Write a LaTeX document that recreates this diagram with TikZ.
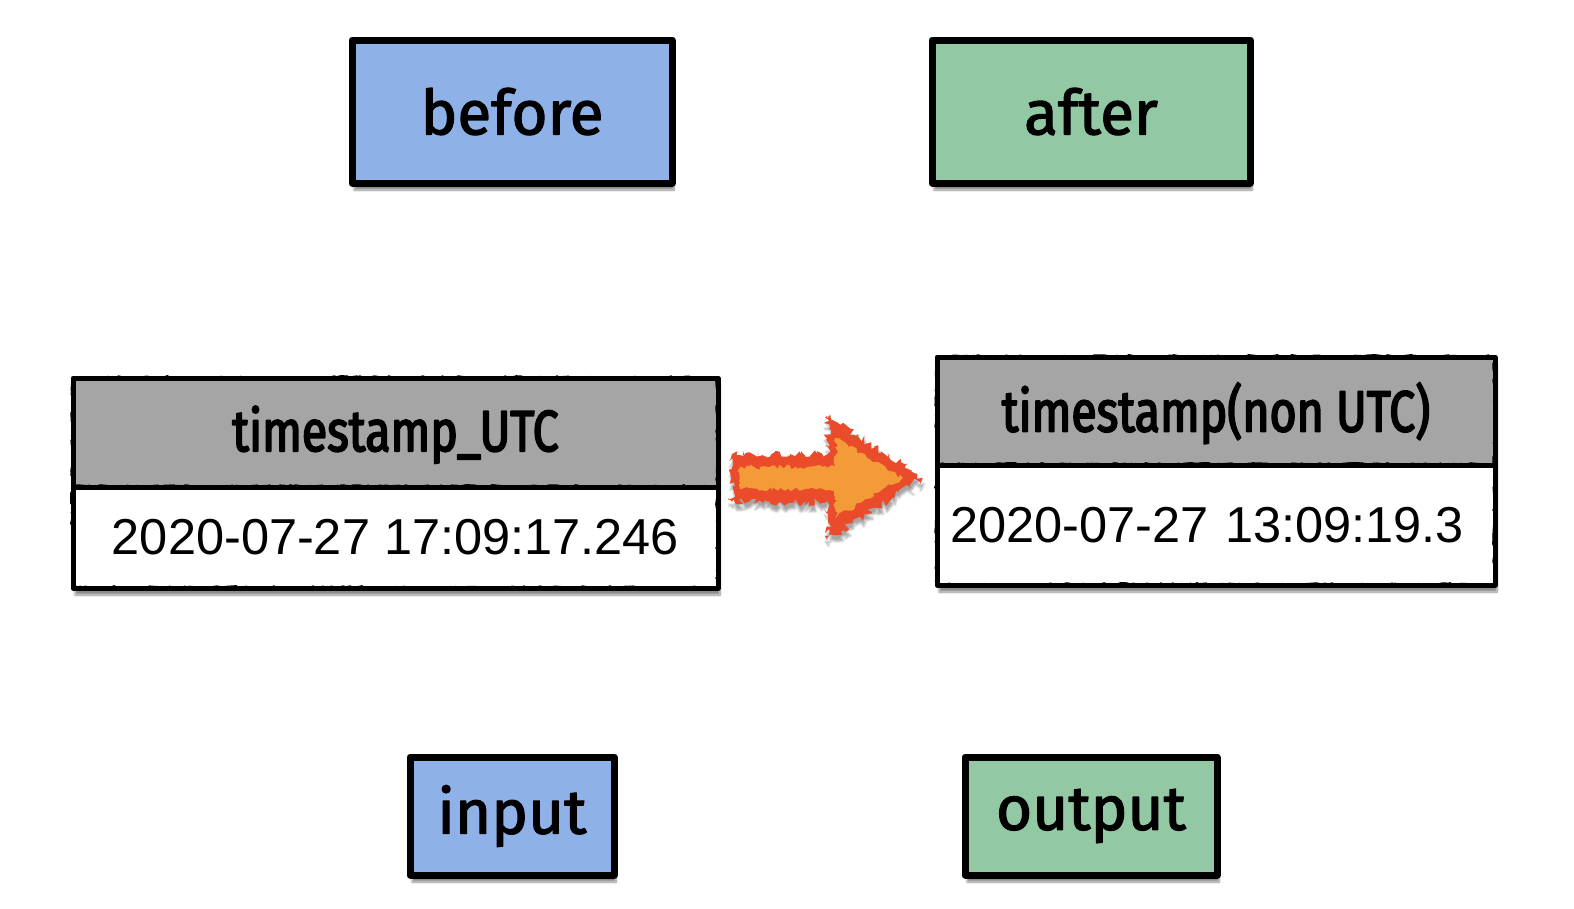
\documentclass[tikz,border=0pt]{standalone}
\usepackage{fontspec}
\setmainfont{Liberation Sans}
\newfontfamily\tagfont[FakeBold=2]{Fira Sans}
\newfontfamily\headfont[FakeStretch=0.8,FakeBold=3]{Fira Sans}
\usetikzlibrary{positioning,calc,shadows.blur,decorations.pathmorphing}
\definecolor{tagblue}{HTML}{8EB1E8}
\definecolor{taggreen}{HTML}{92C8A3}
\definecolor{headgray}{HTML}{A5A5A5}
\definecolor{flamered}{HTML}{E94B2B}
\definecolor{flameorange}{HTML}{F29B38}

\begin{document}
\begin{tikzpicture}[x=1pt, y=-1pt,
	rough/.style={draw=black, line width=#1, outer sep=0pt, line join=round,
		postaction={draw=black, line width=1.5pt, decorate,
			decoration={random steps, segment length=4pt, amplitude=2pt}},
		postaction={draw=black, line width=1pt, decorate,
			decoration={random steps, segment length=7pt, amplitude=2.5pt}}},
	softshadow/.style={blur shadow={shadow xshift=2pt, shadow yshift=-7pt,
			shadow blur steps=10, shadow opacity=45}},
	tag/.style={rough=7pt, fill=#1, softshadow, inner sep=0pt,
		font=\tagfont\fontsize{62}{66}\selectfont},
	headcell/.style={rough=5pt, fill=headgray, softshadow, minimum width=#1,
		minimum height=108pt, font=\headfont\fontsize{58}{62}\selectfont},
	rowcell/.style={rough=5pt, fill=white, softshadow, minimum width=#1,
		font=\fontsize{50.5}{56}\selectfont},
	flame/.style={fill=flamered, decorate,
		decoration={random steps, segment length=2.5pt, amplitude=4pt},
		blur shadow={shadow xshift=1pt, shadow yshift=-6pt, shadow opacity=35}},
	flamecore/.style={fill=flameorange, decorate,
		decoration={random steps, segment length=3pt, amplitude=2.5pt}}]
	\useasboundingbox (0,0) rectangle (1574,908);

	\node[tag=tagblue, minimum width=320pt, minimum height=143pt] (before) at (512,111.5) {before};
	\node[tag=taggreen, minimum width=318pt, minimum height=143pt] (after) at (1091,111.5) {after};
	\node[tag=tagblue, minimum width=204pt, minimum height=118pt] (input) at (512,816) {input};
	\node[tag=taggreen, minimum width=252pt, minimum height=118pt] (output) at (1091,816) {output};

	\node[headcell=645pt, minimum height=109pt, text depth=8pt] (lthead) at (395.5,432.5) {timestamp\_UTC};
	\node[rowcell=645pt, minimum height=101pt, below=0pt of lthead] (ltrow) {2020-07-27 17:09:17.246};
	\node[headcell=558pt, text depth=8pt] (rthead) at (1216,411) {timestamp(non UTC)};
	\node[rowcell=558pt, minimum height=120pt, below=0pt of rthead, align=left, text width=532pt,
		inner xsep=13pt] (rtrow) {2020-07-27 13:09:19.3};

	\coordinate (a) at ([shift={(14,-9)}]lthead.south east);
	\coordinate (b) at ([shift={(-14,13)}]rthead.south west);
	\coordinate (h) at ($(a)!0.5!(b)$);
	\fill[flame] ($(a)+(0,-24)$) -- ($(h)+(0,-24)$) -- ($(h)+(0,-62)$) -- (b)
		-- ($(h)+(0,62)$) -- ($(h)+(0,24)$) -- ($(a)+(0,24)$) -- cycle;
	\fill[flamecore] ($(a)+(8,-11)$) -- ($(h)+(8,-11)$) -- ($(h)+(8,-40)$) -- ($(b)+(-20,0)$)
		-- ($(h)+(8,40)$) -- ($(h)+(8,11)$) -- ($(a)+(8,11)$) -- cycle;
\end{tikzpicture}
\end{document}
